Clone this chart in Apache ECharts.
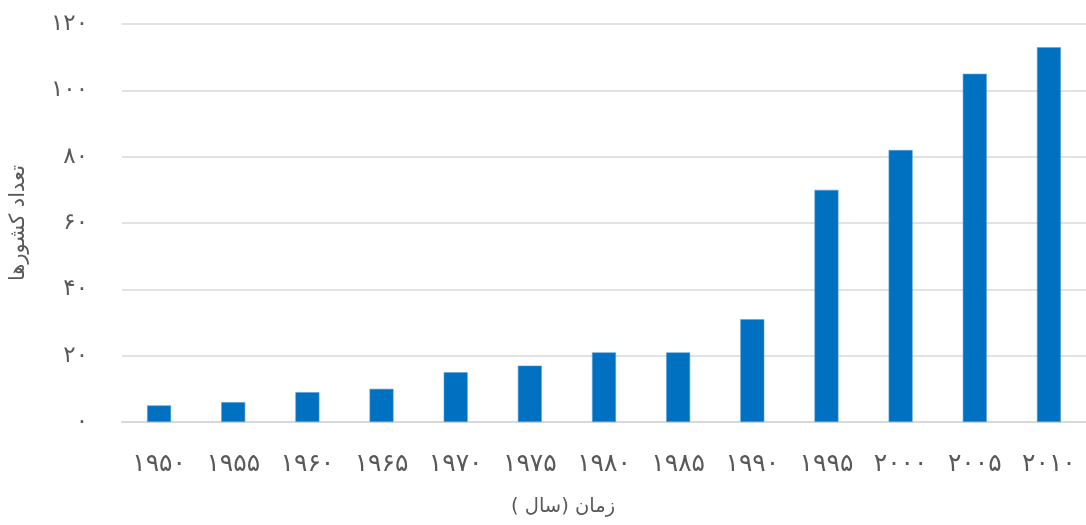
<!DOCTYPE html>
<html>
<head>
<meta charset="utf-8">
<script src="https://cdn.jsdelivr.net/npm/echarts@6/dist/echarts.min.js"></script>
<style>
  html, body { margin: 0; padding: 0; background: #ffffff; }
  #chart { width: 1086px; height: 525px; }
</style>
</head>
<body>
<div id="chart" dir="rtl"></div>
<script>
// Years on the horizontal axis (Persian digits)
const years = ['۱۹۵۰', '۱۹۵۵', '۱۹۶۰', '۱۹۶۵', '۱۹۷۰', '۱۹۷۵', '۱۹۸۰', '۱۹۸۵', '۱۹۹۰', '۱۹۹۵', '۲۰۰۰', '۲۰۰۵', '۲۰۱۰'];
// Number of countries per year
const countries = [5, 6, 9, 10, 15, 17, 21, 21, 31, 70, 82, 105, 113];
// Value-axis tick labels
const yTicks = [0, 20, 40, 60, 80, 100, 120];
const yTickLabels = ['۰', '۲۰', '۴۰', '۶۰', '۸۰', '۱۰۰', '۱۲۰'];

const xAxisTitle = 'زمان (سال )';
const yAxisTitle = 'تعداد کشورها';

const fontFamily = '"DejaVu Sans", "Noto Sans", sans-serif';
const textColor = '#595959';

const chart = echarts.init(document.getElementById('chart'), null, { renderer: 'canvas' });

chart.setOption({
  backgroundColor: '#ffffff',
  animation: false,
  grid: { left: 121, right: 0, top: 24, bottom: 103, containLabel: false },
  xAxis: {
    type: 'category',
    data: years,
    name: xAxisTitle,
    nameLocation: 'middle',
    nameGap: 75,
    nameTextStyle: { color: textColor, fontSize: 19.5, fontFamily: fontFamily, padding: [0, 82, 0, 0] },
    axisLine: { show: true, lineStyle: { color: '#d9d9d9', width: 2 } },
    axisTick: { show: false },
    axisLabel: { color: textColor, fontSize: 25, fontFamily: fontFamily, margin: 30 }
  },
  yAxis: {
    type: 'value',
    min: yTicks[0],
    max: yTicks[yTicks.length - 1],
    interval: yTicks[1] - yTicks[0],
    name: yAxisTitle,
    nameLocation: 'middle',
    nameGap: 93,
    nameRotate: 90,
    nameTextStyle: { color: textColor, fontSize: 21, fontFamily: fontFamily },
    axisLine: { show: false },
    axisTick: { show: false },
    axisLabel: {
      color: textColor, fontSize: 23, fontFamily: fontFamily, margin: 34,
      formatter: function (v) { return yTickLabels[yTicks.indexOf(v)]; }
    },
    splitLine: { show: true, lineStyle: { color: '#d9d9d9', width: 1.5 } }
  },
  series: [{
    type: 'bar',
    data: countries,
    barWidth: 24,
    itemStyle: { color: '#0070c0', borderColor: '#5fa0d8', borderWidth: 0.6 }
  }]
});
</script>
</body>
</html>
